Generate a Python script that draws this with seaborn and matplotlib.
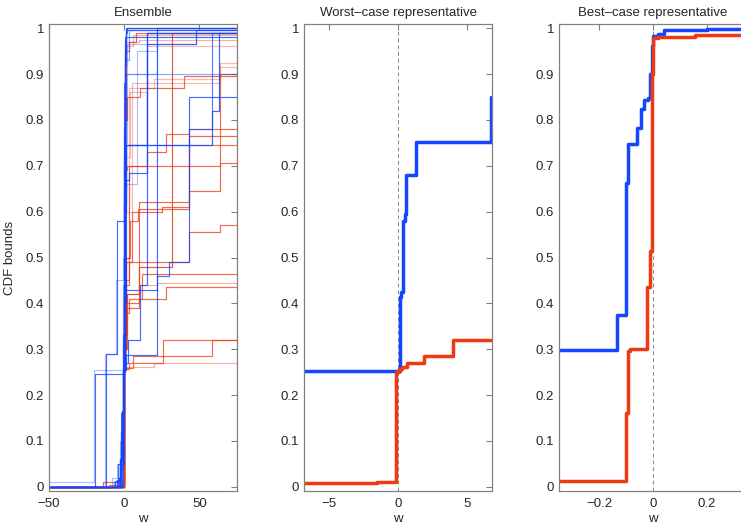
import numpy as np
import pandas as pd
import matplotlib
matplotlib.use('Agg')
import matplotlib.pyplot as plt
import seaborn as sns

# ---- ensemble: upper bounds (blue) and lower bounds (red), step curves ----
ens_blue_x = [
    [-60, -20, -1.0, 0.2, 0.8, 1.5, 21.6, 90],
    [-60, -19.5, -0.8, 0.3, 2.4, 10.6, 15.0, 90],
    [-60, -12.2, -4.7, -0.2, 1.0, 15.0, 48.0, 90],
    [-60, -13, -5.5, -0.5, 0.5, 8.2, 22, 90],
    [-60, -3.5, -2.5, -1.2, -0.2, 1.0, 21.6, 90],
    [-60, -6, -4, -2, -0.5, 0.3, 21.6, 29.5, 43.3, 90],
    [-60, -5, -3, -1.5, -0.3, 0.5, 1.5, 58.7, 62.7, 90],
    [-60, -4, -2.5, -1, 0, 1, 3, 15, 90],
    [-60, -7, -3, -0.8, 0.2, 0.7, 1.5, 90],
    [-60, -2, -0.5, 0, 0.5, 1, 2, 90],
    [-60, -1.5, -0.3, 0.2, 0.6, 1.2, 90],
    [-60, -8, -4.5, -3, -1, 0.5, 2, 48, 90],
    [-60, -1, 0, 0.3, 1, 21.6, 43.3, 58.7, 90],
    [-60, -2.5, -0.6, 0.1, 0.4, 1.5, 90],
    [-60, -3, -1.8, -0.9, -0.4, 0.1, 0.6, 90],
    [-60, -2.2, -1.2, -0.6, 0.0, 0.4, 3.5, 90],
]
ens_blue_y = [
    [0.011, 0.255, 0.26, 0.45, 0.7, 0.9, 1.0, 1.0],
    [0.0, 0.245, 0.25, 0.27, 0.32, 0.44, 0.99, 0.99],
    [0.0, 0.29, 0.58, 0.62, 0.745, 0.965, 0.995, 0.995],
    [0.0, 0.29, 0.45, 0.5, 0.66, 0.95, 0.99, 0.99],
    [0.0, 0.02, 0.055, 0.165, 0.255, 0.287, 1.0, 1.0],
    [0.0, 0.012, 0.05, 0.16, 0.26, 0.43, 0.46, 0.49, 0.85, 0.85],
    [0.0, 0.015, 0.06, 0.165, 0.3, 0.6, 0.745, 0.82, 0.99, 0.99],
    [0.0, 0.02, 0.05, 0.16, 0.4, 0.67, 0.685, 0.99, 0.99],
    [0.0, 0.01, 0.04, 0.25, 0.6, 0.7, 0.9, 0.9],
    [0.0, 0.1, 0.25, 0.7, 0.95, 0.99, 1.0, 1.0],
    [0.0, 0.05, 0.255, 0.8, 0.97, 1.0, 1.0],
    [0.0, 0.02, 0.05, 0.1, 0.3, 0.75, 0.965, 0.99, 0.99],
    [0.0, 0.255, 0.27, 0.645, 0.745, 0.745, 0.78, 0.99, 0.99],
    [0.0, 0.06, 0.25, 0.78, 0.92, 0.995, 0.995],
    [0.0, 0.03, 0.12, 0.33, 0.62, 0.88, 0.98, 0.98],
    [0.0, 0.05, 0.15, 0.44, 0.72, 0.93, 0.997, 0.997],
]
ens_blue_alpha = [0.35, 0.8, 0.8, 0.35, 0.8, 0.8, 0.85, 0.8, 0.45, 0.8, 0.8, 0.35, 0.7, 0.8, 0.8, 0.5]

ens_red_x = [
    [-60, -0.3, 0.3, 3, 26, 90],
    [-60, -0.3, 0.5, 6, 58.4, 90],
    [-60, -0.2, 0.5, 20, 90],
    [-60, -14, -0.2, 0.4, 1, 3, 11.6, 90],
    [-60, -0.3, 0.8, 2, 10, 28, 90],
    [-60, -0.2, 0.5, 1.5, 5, 10, 43.3, 90],
    [-60, -0.2, 0.4, 1.2, 4, 9, 43.3, 63.8, 90],
    [-60, -0.2, 0.3, 1, 3, 43.3, 63.8, 90],
    [-60, -0.2, 0.3, 2, 10, 32, 90],
    [-60, -0.1, 0.2, 0.6, 2, 10.5, 40, 90],
    [-60, -0.2, 0.1, 0.5, 1.5, 6, 90],
    [-60, -0.2, 0.2, 1, 3, 8, 90],
    [-60, -0.3, 0.4, 2, 63.8, 90],
    [-60, -0.2, 0.5, 3, 15, 28, 43.3, 90],
    [-60, -0.2, 0.3, 3, 20, 63.8, 90],
    [-60, -0.2, 0.5, 5, 63.8, 90],
    [-60, -10, -0.3, 0.5, 10, 25, 43.3, 90],
    [-60, -0.2, 0.4, 2, 10, 21.6, 90],
    [-60, -0.2, 0.2, 0.8, 4, 15, 90],
    [-60, -0.1, 0.3, 1.5, 10, 90],
]
ens_red_y = [
    [0.0, 0.255, 0.258, 0.27, 0.32, 0.32],
    [0.0, 0.256, 0.26, 0.285, 0.32, 0.32],
    [0.0, 0.255, 0.262, 0.27, 0.27],
    [0.0, 0.01, 0.255, 0.3, 0.38, 0.41, 0.465, 0.465],
    [0.0, 0.255, 0.3, 0.39, 0.41, 0.435, 0.435],
    [0.0, 0.255, 0.35, 0.49, 0.6, 0.62, 0.745, 0.745],
    [0.0, 0.255, 0.3, 0.5, 0.58, 0.605, 0.645, 0.9, 0.9],
    [0.0, 0.255, 0.3, 0.44, 0.49, 0.555, 0.57, 0.57],
    [0.0, 0.26, 0.33, 0.42, 0.48, 0.99, 0.99],
    [0.0, 0.26, 0.6, 0.8, 0.85, 0.87, 0.895, 0.895],
    [0.0, 0.3, 0.7, 0.93, 0.96, 0.985, 0.985],
    [0.0, 0.4, 0.8, 0.95, 0.97, 0.99, 0.99],
    [0.0, 0.255, 0.69, 0.7, 0.705, 0.705],
    [0.0, 0.26, 0.45, 0.7, 0.73, 0.77, 0.78, 0.78],
    [0.0, 0.27, 0.5, 0.87, 0.89, 0.925, 0.925],
    [0.0, 0.3, 0.6, 0.88, 0.915, 0.915],
    [0.0, 0.005, 0.255, 0.4, 0.6, 0.61, 0.765, 0.765],
    [0.0, 0.26, 0.4, 0.42, 0.44, 0.445, 0.445],
    [0.0, 0.3, 0.55, 0.72, 0.86, 0.96, 0.96],
    [0.0, 0.5, 0.9, 0.97, 0.975, 0.975],
]
ens_red_alpha = [0.75, 0.75, 0.4, 0.75, 0.75, 0.75, 0.75, 0.75, 0.85, 0.75, 0.4, 0.75, 0.75, 0.75, 0.35, 0.35, 0.75, 0.4, 0.35, 0.4]

# ---- worst-case representative ----
wc_blue_x = [-10, 0.12, 0.24, 0.36, 0.53, 0.6, 1.28, 6.75, 10]
wc_blue_y = [0.253, 0.413, 0.425, 0.58, 0.595, 0.68, 0.752, 0.85, 0.85]
wc_red_x = [-10, -1.5, -0.12, 0.05, 0.3, 0.65, 1.9, 3.95, 10]
wc_red_y = [0.008, 0.01, 0.25, 0.258, 0.262, 0.27, 0.286, 0.32, 0.32]

# ---- best-case representative ----
bc_blue_x = [-0.5, -0.133, -0.101, -0.093, -0.061, -0.045, -0.032, -0.017, -0.011, -0.004, 0.0, 0.02, 0.04, 0.2, 0.5]
bc_blue_y = [0.298, 0.375, 0.663, 0.747, 0.783, 0.823, 0.843, 0.848, 0.9, 0.96, 0.983, 0.987, 0.995, 0.998, 0.998]
bc_red_x = [-0.5, -0.101, -0.092, -0.087, -0.022, -0.011, -0.005, -0.002, 0.0, 0.02, 0.155, 0.5]
bc_red_y = [0.012, 0.16, 0.296, 0.3, 0.435, 0.515, 0.72, 0.9, 0.978, 0.981, 0.985, 0.985]

titles = ['Ensemble', 'Worst\u2013case representative', 'Best\u2013case representative']
xlims = [(-50, 75), (-6.8, 6.8), (-0.348, 0.348)]
xticks = [[-50, 0, 50], [-5, 0, 5], [-0.2, 0, 0.2]]
yticks = [0, 0.1, 0.2, 0.3, 0.4, 0.5, 0.6, 0.7, 0.8, 0.9, 1]

BLUE = '#1446ff'
RED = '#ee3a12'

sns.set_style('white')
plt.rcParams['font.family'] = ['Liberation Sans', 'DejaVu Sans']

fig = plt.figure(figsize=(7.41, 5.27), dpi=100)
lefts = [49 / 741, 304 / 741, 559 / 741]
axes = [fig.add_axes([l, 36 / 527, 188 / 741, 467 / 527]) for l in lefts]


def step(ax, xs, ys, color, lw, alpha=1.0):
    sns.lineplot(x=xs, y=ys, ax=ax, color=color, lw=lw, alpha=alpha,
                 drawstyle='steps-post', estimator=None, sort=False)


ax = axes[0]
for xs, ys, a in zip(ens_red_x, ens_red_y, ens_red_alpha):
    step(ax, xs, ys, RED, 0.85, a)
for xs, ys, a in zip(ens_blue_x, ens_blue_y, ens_blue_alpha):
    step(ax, xs, ys, BLUE, 0.85, a)

for ax in axes[1:]:
    ax.axvline(0, color='#888888', lw=0.7, ls=(0, (4, 3)), zorder=1)
step(axes[1], wc_blue_x, wc_blue_y, BLUE, 2.5)
step(axes[1], wc_red_x, wc_red_y, RED, 2.5)
step(axes[2], bc_blue_x, bc_blue_y, BLUE, 2.5)
step(axes[2], bc_red_x, bc_red_y, RED, 2.5)

for i, ax in enumerate(axes):
    ax.set_xlim(*xlims[i])
    ax.set_ylim(-0.009, 1.009)
    ax.set_xticks(xticks[i])
    ax.set_xticklabels([f'{v:g}'.replace('-', '\u2212') for v in xticks[i]])
    ax.set_yticks(yticks)
    ax.set_yticklabels([f'{v:g}' for v in yticks])
    ax.tick_params(direction='in', length=4, width=0.8, color='#808080',
                   top=True, right=True, labelsize=9.5)
    ax.tick_params(axis='x', pad=5)
    for s in ax.spines.values():
        s.set_color('#808080')
        s.set_linewidth(0.9)
    ax.set_title(titles[i], fontsize=9.5, pad=6)
    ax.set_xlabel('w', fontsize=9.5, labelpad=2)
    ax.set_ylabel('')
axes[0].set_ylabel('CDF bounds', fontsize=9.5, labelpad=7)

fig.savefig('out.png', dpi=100, facecolor='white')
